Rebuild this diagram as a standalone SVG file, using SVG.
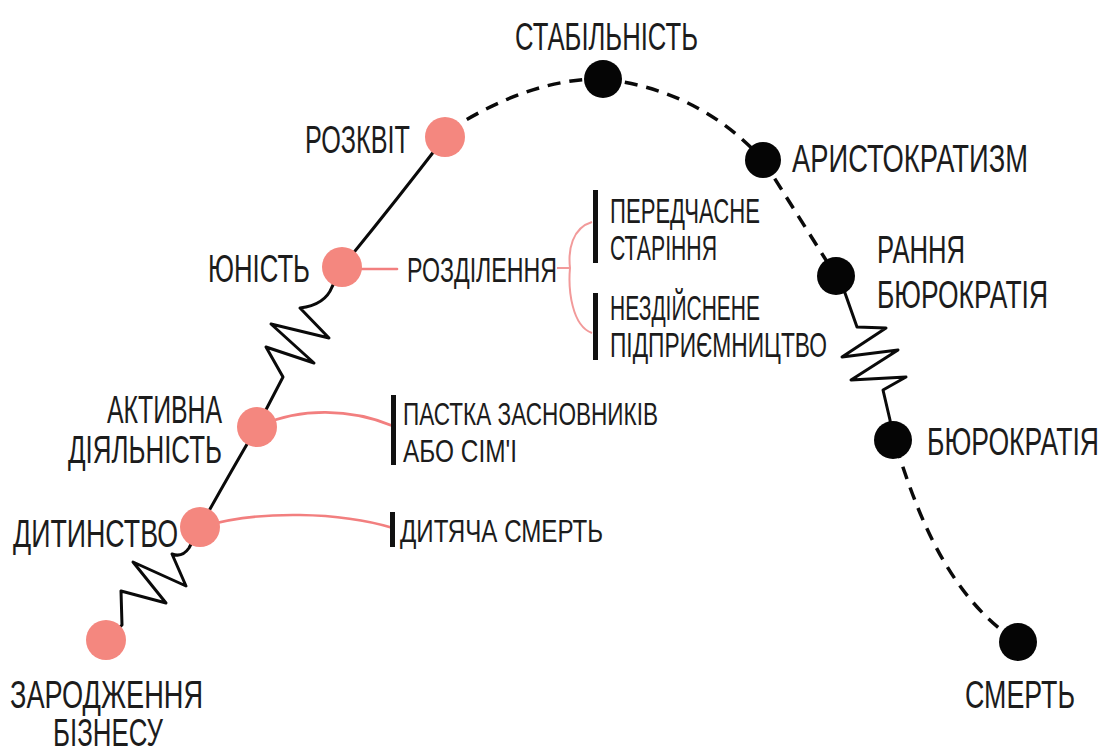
<svg xmlns="http://www.w3.org/2000/svg" width="1109" height="753" viewBox="0 0 1109 753">
  <style>
    .lbl { font-family: "Liberation Sans", "Liberation Sans Narrow", "DejaVu Sans Condensed", sans-serif; fill: #1c1c1c; }
    .big { font-size: 38px; }
    .mid { font-size: 35px; }
    .sm { font-size: 32px; }
    .pink { fill: #f4877f; }
    .dark { fill: #050505; }
    .solid { fill: none; stroke: #0a0a0a; stroke-width: 3; stroke-linecap: round; stroke-linejoin: round; }
    .dash { fill: none; stroke: #0a0a0a; stroke-width: 3.5; stroke-dasharray: 13 9; }
    .branch { fill: none; stroke: #f27f7f; stroke-width: 2.6; stroke-linecap: round; }
    .brace { fill: none; stroke: #f29a9a; stroke-width: 2; }
    .bar { fill: #111; }
  </style>

  <!-- life-cycle curve and side branches -->
  <g id="connectors">
    <path class="solid" d="M200,527 L189,548 Q182,558 172,554 L186,586 L133,562 L166,603 L121,591 L122,625 L106,640"/>
    <path class="solid" d="M200,527 Q226,480 257,427"/>
    <path class="solid" d="M342,267 L332,287 Q325,305 300,308 L329,338 L271,324 L314,363 L266,347 L283,377 L257,427"/>
    <path class="solid" d="M342,267 Q392,206 445,137"/>
    <path class="dash" d="M448,131 Q530,78 603,79"/>
    <path class="dash" d="M603,79 Q700,90 763,160"/>
    <path class="dash" d="M763,160 L836,276"/>
    <path class="solid" d="M836,276 L845,293 L857,327 L886,328 L842,357 L898,350 L851,380 L906,377 L883,390 L890,420 L893,440"/>
    <path class="dash" d="M896,446 C915,505 945,595 1018,642"/>
    <!-- side branches -->
    <path class="branch" d="M360,269 L397,269"/>
    <path class="branch" d="M262,425 C300,408 350,408 393,426"/>
    <path class="branch" d="M205,526 C260,510 340,512 393,528"/>
    <path class="brace" d="M557,268 L570,268 M592,222 C572,228 568,250 570,268 C568,290 572,326 592,333"/>
  </g>

  <!-- stages -->
  <g id="start">
    <circle class="pink" cx="106" cy="640" r="20"/>
    <text class="lbl big" x="10" y="708" textLength="193" lengthAdjust="spacingAndGlyphs">ЗАРОДЖЕННЯ</text>
    <text class="lbl big" x="53" y="746" textLength="110" lengthAdjust="spacingAndGlyphs">БІЗНЕСУ</text>
  </g>
  <g id="childhood">
    <circle class="pink" cx="200" cy="527" r="20"/>
    <text class="lbl big" x="13" y="547" textLength="165" lengthAdjust="spacingAndGlyphs">ДИТИНСТВО</text>
  </g>
  <g id="active">
    <circle class="pink" cx="257" cy="427" r="20"/>
    <text class="lbl big" x="107" y="423" textLength="115" lengthAdjust="spacingAndGlyphs">АКТИВНА</text>
    <text class="lbl big" x="68" y="463" textLength="154" lengthAdjust="spacingAndGlyphs">ДІЯЛЬНІСТЬ</text>
  </g>
  <g id="youth">
    <circle class="pink" cx="342" cy="267" r="20"/>
    <text class="lbl big" x="208" y="282" textLength="102" lengthAdjust="spacingAndGlyphs">ЮНІСТЬ</text>
  </g>
  <g id="prime">
    <circle class="pink" cx="445" cy="137" r="20"/>
    <text class="lbl big" x="305" y="153" textLength="105" lengthAdjust="spacingAndGlyphs">РОЗКВІТ</text>
  </g>
  <g id="stability">
    <circle class="dark" cx="603" cy="79" r="19"/>
    <text class="lbl big" x="515" y="50" textLength="183" lengthAdjust="spacingAndGlyphs">СТАБІЛЬНІСТЬ</text>
  </g>
  <g id="aristocracy">
    <circle class="dark" cx="763" cy="160" r="18"/>
    <text class="lbl big" x="792" y="172" textLength="236" lengthAdjust="spacingAndGlyphs">АРИСТОКРАТИЗМ</text>
  </g>
  <g id="early-bureaucracy">
    <circle class="dark" cx="836" cy="276" r="19"/>
    <text class="lbl big" x="877" y="263" textLength="88" lengthAdjust="spacingAndGlyphs">РАННЯ</text>
    <text class="lbl big" x="877" y="308" textLength="171" lengthAdjust="spacingAndGlyphs">БЮРОКРАТІЯ</text>
  </g>
  <g id="bureaucracy">
    <circle class="dark" cx="893" cy="440" r="19"/>
    <text class="lbl big" x="927" y="455" textLength="172" lengthAdjust="spacingAndGlyphs">БЮРОКРАТІЯ</text>
  </g>
  <g id="death">
    <circle class="dark" cx="1018" cy="642" r="19"/>
    <text class="lbl big" x="965" y="708" textLength="110" lengthAdjust="spacingAndGlyphs">СМЕРТЬ</text>
  </g>

  <!-- traps along the way -->
  <g id="split">
    <text class="lbl mid" x="407" y="282" textLength="150" lengthAdjust="spacingAndGlyphs">РОЗДІЛЕННЯ</text>
  </g>
  <g id="premature-aging">
    <rect class="bar" x="593" y="190" width="5" height="73"/>
    <text class="lbl mid" x="610" y="223" textLength="150" lengthAdjust="spacingAndGlyphs">ПЕРЕДЧАСНЕ</text>
    <text class="lbl mid" x="610" y="260" textLength="107" lengthAdjust="spacingAndGlyphs">СТАРІННЯ</text>
  </g>
  <g id="unfulfilled">
    <rect class="bar" x="593" y="293" width="5" height="67"/>
    <text class="lbl mid" x="610" y="320" textLength="150" lengthAdjust="spacingAndGlyphs">НЕЗДІЙСНЕНЕ</text>
    <text class="lbl mid" x="610" y="357" textLength="217" lengthAdjust="spacingAndGlyphs">ПІДПРИЄМНИЦТВО</text>
  </g>
  <g id="founder-trap">
    <rect class="bar" x="391" y="395" width="5" height="70"/>
    <text class="lbl sm" x="403" y="425" textLength="255" lengthAdjust="spacingAndGlyphs">ПАСТКА ЗАСНОВНИКІВ</text>
    <text class="lbl sm" x="403" y="462" textLength="114" lengthAdjust="spacingAndGlyphs">АБО СІМ'І</text>
  </g>
  <g id="infant-death">
    <rect class="bar" x="390" y="512" width="5" height="35"/>
    <text class="lbl sm" x="400" y="542" textLength="203" lengthAdjust="spacingAndGlyphs">ДИТЯЧА СМЕРТЬ</text>
  </g>
</svg>
